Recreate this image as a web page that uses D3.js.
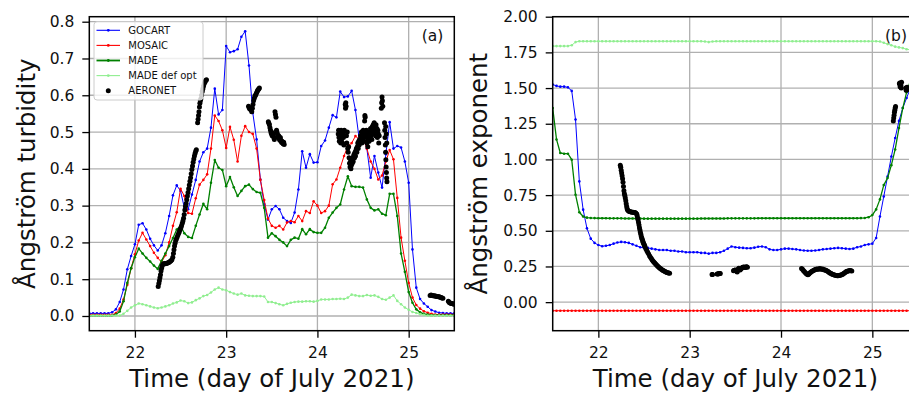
<!DOCTYPE html>
<html><head><meta charset="utf-8">
<script src="https://cdn.jsdelivr.net/npm/d3@7"></script>
<style>
body{margin:0;background:#fff}
svg{display:block}
text{font-family:"DejaVu Sans",sans-serif;fill:#111}
</style>
</head><body>
<svg id="chart" width="909" height="393"></svg>
<script>
// ---------- DATA ----------
const startDay = 21.5;           // first model hour (12 UTC, 21 July)
const dayTicks = [22, 23, 24, 25];
const tauTicks = [0.0, 0.1, 0.2, 0.3, 0.4, 0.5, 0.6, 0.7, 0.8];
const alphaTicks = [0.00, 0.25, 0.50, 0.75, 1.00, 1.25, 1.50, 1.75, 2.00];
const seriesNames = ["GOCART", "MOSAIC", "MADE", "MADE def opt", "AERONET"];

// Angstrom turbidity, hourly from 21.5 to 25.5
const gocartTau = [0.007,0.007,0.007,0.007,0.007,0.007,
0.010,0.018,0.038,0.072,0.127,0.163,
0.195,0.248,0.252,0.235,0.210,0.192,
0.178,0.192,0.225,0.272,0.328,0.355,
0.340,0.294,0.290,0.330,0.370,0.420,
0.445,0.455,0.512,0.618,0.548,0.560,
0.734,0.717,0.720,0.725,0.759,0.774,
0.681,0.552,0.480,0.371,0.304,0.262,
0.290,0.299,0.290,0.267,0.258,0.253,
0.281,0.344,0.448,0.403,0.440,0.417,
0.418,0.462,0.477,0.512,0.546,0.540,
0.610,0.595,0.597,0.612,0.560,0.480,
0.490,0.455,0.376,0.435,0.390,0.349,
0.440,0.527,0.455,0.462,0.458,0.420,
0.362,0.181,0.077,0.046,0.034,0.025,
0.016,0.012,0.009,0.008,0.007,0.007,0.007];
const mosaicTau = [0.003,0.003,0.003,0.003,0.003,0.003,
0.003,0.008,0.020,0.045,0.085,0.130,
0.168,0.205,0.226,0.208,0.190,0.172,
0.158,0.146,0.165,0.200,0.245,0.282,
0.346,0.326,0.280,0.278,0.320,0.357,
0.370,0.385,0.455,0.545,0.530,0.505,
0.457,0.514,0.479,0.420,0.490,0.516,
0.500,0.495,0.455,0.370,0.315,0.265,
0.245,0.240,0.245,0.235,0.254,0.258,
0.255,0.272,0.258,0.285,0.280,0.312,
0.300,0.280,0.285,0.300,0.358,0.371,
0.403,0.435,0.462,0.470,0.489,0.480,
0.485,0.455,0.420,0.400,0.371,0.382,
0.420,0.451,0.426,0.321,0.213,0.150,
0.090,0.050,0.030,0.020,0.013,0.009,
0.006,0.004,0.004,0.004,0.004,0.004,0.004];
const madeTau = [0.001,0.001,0.001,0.001,0.001,0.001,
0.001,0.004,0.012,0.040,0.090,0.130,
0.160,0.183,0.170,0.158,0.148,0.137,
0.128,0.150,0.170,0.190,0.212,0.235,
0.245,0.225,0.215,0.212,0.245,0.276,
0.305,0.290,0.362,0.424,0.403,0.397,
0.353,0.378,0.350,0.326,0.340,0.353,
0.357,0.345,0.337,0.335,0.294,0.213,
0.225,0.217,0.207,0.200,0.190,0.207,
0.213,0.210,0.236,0.222,0.236,0.228,
0.226,0.226,0.240,0.267,0.281,0.294,
0.303,0.344,0.380,0.353,0.351,0.351,
0.349,0.317,0.294,0.287,0.290,0.278,
0.274,0.332,0.332,0.272,0.170,0.120,
0.065,0.036,0.018,0.010,0.006,0.004,
0.002,0.002,0.002,0.002,0.002,0.002,0.002];
const madeDefTau = [0.001,0.001,0.001,0.001,0.001,0.001,
0.001,0.001,0.001,0.006,0.014,0.023,
0.029,0.034,0.032,0.029,0.026,0.023,
0.021,0.023,0.026,0.029,0.034,0.037,
0.042,0.040,0.035,0.037,0.043,0.048,
0.054,0.057,0.064,0.072,0.077,0.072,
0.070,0.065,0.061,0.058,0.061,0.056,
0.055,0.054,0.054,0.054,0.053,0.038,
0.038,0.035,0.032,0.029,0.033,0.036,
0.038,0.039,0.039,0.040,0.040,0.039,
0.041,0.045,0.045,0.045,0.046,0.046,
0.047,0.046,0.050,0.058,0.056,0.054,
0.054,0.057,0.055,0.056,0.052,0.046,
0.044,0.050,0.056,0.041,0.032,0.023,
0.017,0.011,0.008,0.005,0.003,0.001,
0.001,0.001,0.001,0.001,0.001,0.001,0.001];

// Angstrom exponent, hourly from 21.5 to 25.5
const gocartAlpha = [1.525,1.515,1.510,1.510,1.505,1.480,
1.280,0.846,0.648,0.517,0.445,0.415,
0.400,0.392,0.395,0.400,0.410,0.418,
0.422,0.420,0.415,0.405,0.395,0.385,
0.380,0.380,0.375,0.370,0.365,0.365,
0.365,0.360,0.360,0.355,0.355,0.350,
0.350,0.350,0.350,0.345,0.345,0.340,
0.345,0.345,0.350,0.360,0.375,0.390,
0.385,0.382,0.380,0.378,0.378,0.382,
0.388,0.390,0.385,0.370,0.365,0.365,
0.370,0.375,0.375,0.372,0.370,0.365,
0.362,0.360,0.360,0.362,0.365,0.370,
0.372,0.375,0.378,0.380,0.378,0.375,
0.372,0.375,0.385,0.390,0.400,0.405,
0.410,0.450,0.600,0.740,0.880,1.020,
1.150,1.270,1.360,1.430,1.500,1.560,1.600];
const mosaicAlpha = [-0.06,-0.06,-0.06,-0.06,-0.06,-0.06,
-0.06,-0.06,-0.06,-0.06,-0.06,-0.06,
-0.06,-0.06,-0.06,-0.06,-0.06,-0.06,
-0.06,-0.06,-0.06,-0.06,-0.06,-0.06,
-0.06,-0.06,-0.06,-0.06,-0.06,-0.06,
-0.06,-0.06,-0.06,-0.06,-0.06,-0.06,
-0.06,-0.06,-0.06,-0.06,-0.06,-0.06,
-0.06,-0.06,-0.06,-0.06,-0.06,-0.06,
-0.06,-0.06,-0.06,-0.06,-0.06,-0.06,
-0.06,-0.06,-0.06,-0.06,-0.06,-0.06,
-0.06,-0.06,-0.06,-0.06,-0.06,-0.06,
-0.06,-0.06,-0.06,-0.06,-0.06,-0.06,
-0.06,-0.06,-0.06,-0.06,-0.06,-0.06,
-0.06,-0.06,-0.06,-0.06,-0.06,-0.06,
-0.06,-0.06,-0.06,-0.06,-0.06,-0.06,
-0.06,-0.06,-0.06,-0.06,-0.06,-0.06,-0.06];
const madeAlpha = [1.360,1.140,1.045,1.040,1.040,0.998,
0.753,0.630,0.600,0.592,0.590,0.589,
0.588,0.588,0.588,0.587,0.587,0.587,
0.587,0.586,0.586,0.586,0.586,0.586,
0.585,0.585,0.585,0.585,0.585,0.585,
0.585,0.585,0.585,0.585,0.585,0.585,
0.585,0.585,0.585,0.586,0.586,0.586,
0.586,0.586,0.586,0.586,0.587,0.587,
0.587,0.587,0.587,0.587,0.587,0.587,
0.588,0.588,0.588,0.588,0.588,0.588,
0.588,0.588,0.588,0.588,0.588,0.588,
0.588,0.588,0.588,0.588,0.588,0.588,
0.588,0.588,0.588,0.588,0.588,0.588,
0.588,0.588,0.588,0.589,0.590,0.595,
0.610,0.650,0.720,0.820,0.870,0.960,
1.070,1.220,1.360,1.470,1.550,1.600,1.650];
const madeDefAlpha = [1.794,1.794,1.794,1.794,1.794,1.800,
1.822,1.828,1.828,1.828,1.828,1.828,
1.828,1.828,1.828,1.828,1.828,1.828,
1.828,1.828,1.828,1.828,1.828,1.828,
1.828,1.828,1.828,1.828,1.828,1.828,
1.828,1.828,1.828,1.828,1.828,1.828,
1.828,1.828,1.828,1.828,1.826,1.822,
1.826,1.828,1.828,1.828,1.828,1.828,
1.828,1.828,1.828,1.828,1.828,1.828,
1.828,1.828,1.828,1.828,1.828,1.828,
1.828,1.828,1.828,1.828,1.828,1.828,
1.828,1.828,1.828,1.828,1.828,1.828,
1.828,1.828,1.828,1.828,1.828,1.828,
1.828,1.828,1.828,1.828,1.828,1.828,
1.828,1.828,1.826,1.818,1.808,1.800,
1.790,1.785,1.780,1.772,1.768,1.765,1.762];

// AERONET [day, value]
const aeronetTau = [
[22.255,0.080],[22.262,0.088],[22.268,0.096],[22.274,0.104],[22.280,0.112],[22.286,0.122],[22.292,0.130],[22.298,0.136],[22.305,0.140],[22.315,0.142],[22.325,0.143],[22.335,0.142],[22.345,0.143],[22.355,0.144],[22.365,0.145],[22.375,0.146],[22.385,0.148],[22.395,0.150],[22.405,0.153],[22.415,0.160],[22.422,0.170],[22.428,0.180],[22.434,0.190],[22.440,0.198],[22.447,0.205],[22.455,0.210],[22.463,0.215],[22.471,0.220],[22.479,0.225],[22.487,0.230],[22.495,0.235],[22.503,0.240],[22.511,0.245],[22.519,0.252],[22.526,0.258],[22.533,0.266],[22.540,0.276],[22.547,0.288],[22.554,0.298],[22.561,0.306],[22.568,0.316],[22.575,0.326],[22.582,0.336],[22.589,0.346],[22.596,0.356],[22.603,0.366],[22.610,0.376],[22.617,0.387],[22.624,0.398],[22.631,0.408],[22.638,0.418],[22.645,0.427],[22.652,0.435],[22.659,0.442],[22.666,0.448],[22.673,0.452],
[22.687,0.525],[22.692,0.535],[22.697,0.545],[22.702,0.555],[22.707,0.568],[22.712,0.578],[22.717,0.585],[22.722,0.590],[22.730,0.600],[22.738,0.610],[22.745,0.618],[22.752,0.625],[22.760,0.632],[22.768,0.636],[22.776,0.640],[22.784,0.642],
[23.245,0.570],[23.252,0.566],[23.259,0.563],[23.266,0.565],[23.273,0.560],[23.280,0.555],[23.287,0.565],[23.294,0.575],[23.301,0.585],[23.308,0.592],[23.315,0.598],[23.322,0.600],[23.329,0.605],[23.336,0.608],[23.343,0.612],[23.350,0.615],[23.357,0.617],[23.364,0.620],
[23.462,0.528],[23.468,0.524],[23.474,0.520],[23.480,0.512],[23.486,0.505],[23.492,0.498],[23.498,0.495],[23.504,0.490],[23.510,0.498],[23.516,0.492],[23.522,0.485],[23.528,0.480],[23.535,0.555],[23.540,0.548],[23.546,0.540],[23.552,0.505],[23.558,0.498],[23.564,0.492],[23.570,0.485],[23.576,0.490],[23.582,0.482],[23.588,0.478],[23.594,0.485],[23.600,0.478],[23.606,0.472],[23.612,0.475],[23.618,0.470],[23.624,0.468],[23.630,0.472],[23.636,0.466],
[24.228,0.495],[24.232,0.505],[24.236,0.485],[24.240,0.475],[24.245,0.500],[24.250,0.490],[24.255,0.470],[24.260,0.505],[24.265,0.480],[24.270,0.495],[24.275,0.470],[24.280,0.500],[24.285,0.485],[24.290,0.465],[24.295,0.505],[24.300,0.490],[24.305,0.575],[24.308,0.565],[24.311,0.580],[24.314,0.570],[24.318,0.490],[24.322,0.470],[24.327,0.500],[24.332,0.455],[24.337,0.445],[24.342,0.460],[24.347,0.430],[24.352,0.415],[24.357,0.405],[24.362,0.420],[24.367,0.400],[24.372,0.410],[24.377,0.425],[24.382,0.415],[24.387,0.430],[24.392,0.420],[24.397,0.435],[24.402,0.440],[24.407,0.430],[24.412,0.445],[24.417,0.435],[24.422,0.450],[24.427,0.455],[24.432,0.445],[24.437,0.460],[24.442,0.470],[24.447,0.455],[24.452,0.475],[24.457,0.465],[24.462,0.480],[24.467,0.470],[24.472,0.490],[24.477,0.480],[24.482,0.500],[24.487,0.470],[24.492,0.495],[24.497,0.485],[24.502,0.505],[24.507,0.475],[24.512,0.495],[24.517,0.530],[24.520,0.545],[24.523,0.540],[24.527,0.500],[24.532,0.485],[24.537,0.505],[24.542,0.470],[24.547,0.490],[24.552,0.460],[24.557,0.480],[24.562,0.495],[24.567,0.475],[24.572,0.500],[24.577,0.485],[24.582,0.510],[24.587,0.490],[24.592,0.505],[24.597,0.480],[24.602,0.515],[24.607,0.495],[24.612,0.520],[24.617,0.500],[24.622,0.525],[24.627,0.505],[24.632,0.515],[24.637,0.490],[24.642,0.520],[24.647,0.500],[24.652,0.510],[24.657,0.485],[24.662,0.505],[24.667,0.495],[24.672,0.470],[24.677,0.490],[24.700,0.565],[24.704,0.580],[24.708,0.595],[24.712,0.585],[24.716,0.570],[24.735,0.525],[24.738,0.505],[24.741,0.485],[24.744,0.465],[24.747,0.445],[24.750,0.425],[24.753,0.405],[24.756,0.390],[24.759,0.375],[24.762,0.365],[24.748,0.515],[24.754,0.495],[24.760,0.470],
[25.235,0.056],[25.245,0.057],[25.255,0.056],[25.265,0.055],[25.275,0.055],[25.285,0.054],[25.295,0.054],[25.305,0.053],[25.315,0.053],[25.325,0.052],[25.335,0.052],[25.345,0.051],[25.355,0.050],[25.365,0.049],[25.375,0.048],
[25.435,0.040],[25.445,0.037],[25.455,0.035],[25.465,0.034],[25.475,0.034],[25.485,0.033],[25.495,0.032]
];
const aeronetAlpha = [
[22.240,0.960],[22.245,0.945],[22.250,0.925],[22.255,0.905],[22.260,0.885],[22.265,0.865],[22.270,0.840],[22.275,0.810],[22.280,0.780],[22.285,0.760],[22.290,0.745],[22.295,0.730],[22.300,0.710],[22.305,0.690],[22.310,0.670],[22.315,0.655],[22.320,0.645],[22.330,0.638],[22.340,0.635],[22.350,0.633],[22.360,0.632],[22.370,0.630],[22.380,0.630],[22.390,0.628],[22.400,0.628],[22.410,0.625],[22.420,0.618],[22.425,0.605],[22.430,0.590],[22.435,0.575],[22.440,0.558],[22.445,0.540],[22.450,0.522],[22.455,0.505],[22.460,0.490],[22.465,0.475],[22.470,0.460],[22.475,0.450],[22.480,0.440],[22.485,0.430],[22.490,0.420],[22.495,0.412],[22.500,0.405],[22.505,0.397],[22.510,0.390],[22.520,0.375],[22.530,0.362],[22.540,0.350],[22.550,0.338],[22.560,0.326],[22.570,0.315],[22.580,0.305],[22.590,0.295],[22.600,0.287],[22.610,0.279],[22.620,0.272],[22.630,0.265],[22.640,0.258],[22.650,0.252],[22.660,0.246],[22.670,0.240],[22.680,0.235],[22.690,0.230],[22.700,0.226],[22.710,0.222],[22.720,0.218],[22.730,0.214],[22.740,0.211],[22.750,0.208],[22.760,0.206],[22.770,0.204],[22.780,0.202],
[23.245,0.193],[23.250,0.194],[23.300,0.197],[23.307,0.198],[23.314,0.199],[23.321,0.199],[23.328,0.200],[23.335,0.200],
[23.480,0.220],[23.486,0.222],[23.492,0.224],[23.498,0.226],[23.504,0.222],[23.510,0.218],[23.520,0.212],[23.526,0.222],[23.532,0.232],[23.538,0.238],[23.544,0.236],[23.552,0.225],[23.560,0.232],[23.568,0.238],[23.576,0.242],[23.584,0.245],[23.592,0.246],[23.600,0.245],[23.608,0.243],[23.616,0.246],[23.624,0.248],[23.632,0.245],
[24.225,0.235],[24.235,0.230],[24.245,0.222],[24.255,0.215],[24.265,0.208],[24.275,0.200],[24.285,0.195],[24.295,0.192],[24.305,0.198],[24.315,0.205],[24.325,0.210],[24.335,0.215],[24.345,0.218],[24.355,0.222],[24.365,0.225],[24.375,0.228],[24.385,0.230],[24.395,0.232],[24.405,0.230],[24.415,0.233],[24.425,0.235],[24.435,0.232],[24.445,0.230],[24.455,0.232],[24.465,0.228],[24.475,0.225],[24.485,0.226],[24.495,0.222],[24.505,0.218],[24.515,0.214],[24.525,0.210],[24.535,0.205],[24.545,0.202],[24.555,0.198],[24.565,0.195],[24.575,0.192],[24.585,0.190],[24.595,0.188],[24.605,0.186],[24.615,0.185],[24.625,0.185],[24.635,0.186],[24.645,0.188],[24.655,0.190],[24.665,0.192],[24.675,0.196],[24.685,0.200],[24.695,0.205],[24.705,0.210],[24.715,0.214],[24.725,0.217],[24.735,0.219],[24.745,0.220],[24.755,0.222],[24.765,0.220],[24.775,0.218],
[25.230,1.270],[25.234,1.290],[25.238,1.310],[25.242,1.330],[25.246,1.345],[25.250,1.360],[25.254,1.370],[25.296,1.530],[25.300,1.535],[25.304,1.510],[25.308,1.530],[25.312,1.520],[25.316,1.500],[25.320,1.540],[25.365,1.500],[25.370,1.485],[25.375,1.495],[25.380,1.505],[25.385,1.490]
];

// ---------- DRAW ----------
const colors = {"GOCART":"#0000ff","MOSAIC":"#ff0000","MADE":"#008000","MADE def opt":"#90ee90","AERONET":"#000000"};
const widths = {"GOCART":1,"MOSAIC":1,"MADE":1.3,"MADE def opt":1};
const svg = d3.select("#chart");
const plotTop = 16.7, plotBottom = 330.7;
const hourly = arr => arr.map((v, k) => ({t: startDay + k / 24, v}));

const panels = [
  {key:"a", left:89.3, right:454.3, ydom:[-0.04, 0.8136], ticks:tauTicks, fmt:d3.format(".1f"),
   series:[["GOCART",gocartTau],["MOSAIC",mosaicTau],["MADE",madeTau],["MADE def opt",madeDefTau]],
   aero:aeronetTau, ylabel:"Ångström turbidity", ylabelX:35, tag:"(a)", tagX:421.7, legend:true},
  {key:"b", left:552.7, right:918, ydom:[-0.2, 2.0], ticks:alphaTicks, fmt:d3.format(".2f"),
   series:[["GOCART",gocartAlpha],["MOSAIC",mosaicAlpha],["MADE",madeAlpha],["MADE def opt",madeDefAlpha]],
   aero:aeronetAlpha, ylabel:"Ångström exponent", ylabelX:487, tag:"(b)", tagX:885, legend:false}
];

panels.forEach(p => {
  const x = d3.scaleLinear().domain([21.5, 25.5]).range([p.left, p.right]);
  const y = d3.scaleLinear().domain(p.ydom).range([plotBottom, plotTop]);
  const g = svg.append("g");
  const clipId = "clip-" + p.key;
  svg.append("clipPath").attr("id", clipId).append("rect")
    .attr("x", p.left).attr("y", plotTop).attr("width", p.right - p.left).attr("height", plotBottom - plotTop);

  // grid
  const grid = g.append("g").attr("clip-path", `url(#${clipId})`);
  grid.selectAll(".gx").data(dayTicks).join("line")
    .attr("x1", d => x(d)).attr("x2", d => x(d)).attr("y1", plotTop).attr("y2", plotBottom)
    .attr("stroke", "#b0b0b0").attr("stroke-width", 1.3);
  grid.selectAll(".gy").data(p.ticks).join("line")
    .attr("x1", p.left).attr("x2", p.right).attr("y1", d => y(d)).attr("y2", d => y(d))
    .attr("stroke", "#b0b0b0").attr("stroke-width", 1.3);

  // series
  const data = g.append("g").attr("clip-path", `url(#${clipId})`);
  const line = d3.line().x(d => x(d.t)).y(d => y(d.v));
  p.series.forEach(([name, vals]) => {
    const pts = hourly(vals);
    data.append("path").datum(pts).attr("d", line).attr("fill", "none")
      .attr("stroke", colors[name]).attr("stroke-width", widths[name]).attr("stroke-linejoin", "round");
    data.append("g").selectAll("circle").data(pts).join("circle")
      .attr("cx", d => x(d.t)).attr("cy", d => y(d.v)).attr("r", 1.3).attr("fill", colors[name]);
  });
  data.append("g").selectAll("circle").data(p.aero).join("circle")
    .attr("cx", d => x(d[0])).attr("cy", d => y(d[1])).attr("r", 2.5).attr("fill", "#000");

  // spines
  g.append("rect").attr("x", p.left).attr("y", plotTop).attr("width", p.right - p.left)
    .attr("height", plotBottom - plotTop).attr("fill", "none").attr("stroke", "#000").attr("stroke-width", 1.5);

  // axes
  const ax = g.append("g").attr("transform", `translate(0,${plotBottom})`)
    .call(d3.axisBottom(x).tickValues(dayTicks).tickFormat(d3.format("d")).tickSize(7).tickPadding(9));
  const ay = g.append("g").attr("transform", `translate(${p.left},0)`)
    .call(d3.axisLeft(y).tickValues(p.ticks).tickFormat(p.fmt).tickSize(7).tickPadding(8));
  [ax, ay].forEach(a => {
    a.select(".domain").remove();
    a.selectAll(".tick line").attr("stroke", "#000").attr("stroke-width", 1.3);
    a.selectAll(".tick text").attr("font-size", "15.5px").attr("font-family", "DejaVu Sans").attr("fill", "#111");
  });

  // labels
  g.append("text").attr("x", (p.left + p.right) / 2).attr("y", 387).attr("text-anchor", "middle")
    .attr("font-size", "24.5px").text("Time (day of July 2021)");
  g.append("text").attr("transform", `translate(${p.ylabelX},${(plotTop + plotBottom) / 2}) rotate(-90)`)
    .attr("text-anchor", "middle").attr("font-size", "24.5px").text(p.ylabel);
  g.append("text").attr("x", p.tagX).attr("y", 41).attr("font-size", "15.5px").text(p.tag);

  // legend
  if (p.legend) {
    const lg = g.append("g");
    lg.append("rect").attr("x", 94).attr("y", 21.7).attr("width", 109).attr("height", 78.3)
      .attr("rx", 3).attr("fill", "#fff").attr("fill-opacity", 0.8).attr("stroke", "#cccccc").attr("stroke-width", 1);
    seriesNames.forEach((name, i) => {
      const cy = 30.3 + i * 15.1;
      if (name !== "AERONET") {
        lg.append("line").attr("x1", 96.5).attr("x2", 120).attr("y1", cy).attr("y2", cy)
          .attr("stroke", colors[name]).attr("stroke-width", name === "MADE" ? 1.8 : 1.1);
        lg.append("circle").attr("cx", 108.3).attr("cy", cy).attr("r", 1.4).attr("fill", colors[name]);
      } else {
        lg.append("circle").attr("cx", 108.3).attr("cy", cy).attr("r", 2.5).attr("fill", "#000");
      }
      lg.append("text").attr("x", 128.3).attr("y", cy).attr("dy", "0.36em").attr("font-size", "10px").text(name);
    });
  }
});
</script>
</body></html>
